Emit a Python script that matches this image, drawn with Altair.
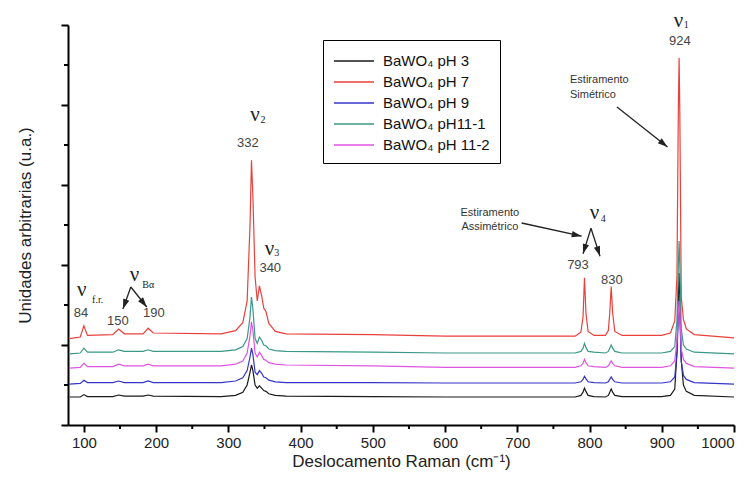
import math
import altair as alt
import pandas as pd

# ---------------- data ----------------
SERIES = ["BaWO₄ pH 3", "BaWO₄ pH 7", "BaWO₄ pH 9", "BaWO₄ pH11-1", "BaWO₄ pH 11-2"]
COLORS = ["#1a1a1a", "#e8413c", "#3535c8", "#3a9888", "#e055e0"]

RAMAN_X = [80, 95, 100, 105, 140, 148, 156, 182, 189, 196,
           290, 310, 320, 326, 330, 332, 334, 337, 340, 343,
           346, 349, 352, 356, 365, 380, 500, 600, 700, 780,
           788, 791, 793, 795, 798, 806, 822, 826, 828, 830,
           832, 835, 845, 900, 912, 918, 921, 923, 924, 925,
           927, 930, 934, 945, 1000]

PH3 = [0.35, 0.35, 0.38, 0.355, 0.355, 0.375, 0.36, 0.36, 0.375, 0.36,
       0.355, 0.37, 0.41, 0.50, 0.66, 0.75, 0.68, 0.50, 0.46, 0.49,
       0.46, 0.43, 0.42, 0.39, 0.37, 0.36, 0.355, 0.35, 0.35, 0.35,
       0.37, 0.41, 0.46, 0.42, 0.37, 0.355, 0.35, 0.37, 0.41, 0.45,
       0.41, 0.37, 0.355, 0.355, 0.37, 0.45, 0.9, 1.6, 1.9, 1.6,
       0.8, 0.5, 0.42, 0.37, 0.35]

PH7 = [1.08, 1.10, 1.24, 1.12, 1.13, 1.20, 1.14, 1.14, 1.21, 1.15,
       1.14, 1.18, 1.28, 1.55, 2.5, 3.31, 2.85, 1.85, 1.55, 1.74,
       1.62, 1.46, 1.42, 1.27, 1.17, 1.14, 1.13, 1.11, 1.11, 1.11,
       1.16, 1.35, 1.84, 1.40, 1.17, 1.12, 1.12, 1.18, 1.40, 1.73,
       1.40, 1.17, 1.12, 1.12, 1.15, 1.30, 1.85, 4.0, 4.59, 3.9,
       1.6, 1.32, 1.2, 1.13, 1.09]

PH9 = [0.51, 0.52, 0.56, 0.53, 0.53, 0.55, 0.53, 0.53, 0.55, 0.53,
       0.53, 0.55, 0.59, 0.68, 0.85, 0.96, 0.88, 0.66, 0.63, 0.68,
       0.65, 0.60, 0.59, 0.56, 0.54, 0.53, 0.53, 0.525, 0.525, 0.525,
       0.54, 0.57, 0.61, 0.58, 0.54, 0.53, 0.525, 0.54, 0.57, 0.60,
       0.57, 0.54, 0.525, 0.525, 0.54, 0.6, 0.9, 1.35, 1.55, 1.35,
       0.8, 0.62, 0.57, 0.53, 0.51]

PH11_1 = [0.89, 0.90, 0.96, 0.91, 0.91, 0.94, 0.92, 0.92, 0.94, 0.92,
          0.92, 0.94, 0.98, 1.08, 1.35, 1.60, 1.45, 1.08, 1.02, 1.10,
          1.06, 1.00, 0.99, 0.95, 0.93, 0.92, 0.91, 0.90, 0.90, 0.90,
          0.92, 0.96, 1.02, 0.97, 0.92, 0.91, 0.90, 0.92, 0.96, 1.00,
          0.96, 0.92, 0.90, 0.90, 0.92, 0.98, 1.3, 2.0, 2.3, 2.0,
          1.2, 1.0, 0.95, 0.91, 0.89]

PH11_2 = [0.71, 0.72, 0.77, 0.73, 0.73, 0.76, 0.74, 0.74, 0.76, 0.74,
          0.74, 0.76, 0.80, 0.90, 1.12, 1.29, 1.18, 0.90, 0.85, 0.91,
          0.87, 0.82, 0.81, 0.78, 0.76, 0.75, 0.74, 0.72, 0.72, 0.72,
          0.74, 0.77, 0.82, 0.78, 0.74, 0.73, 0.72, 0.74, 0.77, 0.80,
          0.77, 0.74, 0.72, 0.72, 0.74, 0.80, 1.05, 1.4, 1.55, 1.4,
          0.95, 0.82, 0.77, 0.73, 0.71]

X_MAJOR = [100, 200, 300, 400, 500, 600, 700, 800, 900, 1000]
X_MINOR = [150, 250, 350, 450, 550, 650, 750, 850, 950]
Y_MAJOR = [0, 1, 2, 3, 4, 5]
Y_MINOR = [0.5, 1.5, 2.5, 3.5, 4.5]

# annotation texts (data coordinates)
NU = [(97, 1.69), (170, 1.875), (337, 3.875), (357, 2.20), (807, 2.65), (923, 5.05)]
NU_SUB = [("f.r.", 119, 1.56), ("Bα", 189, 1.75), ("2", 348, 3.81),
          ("3", 367, 2.145), ("4", 819, 2.575), ("1", 934, 5.0)]
PEAK_LABELS = [("84", 96, 1.40), ("150", 147, 1.30), ("190", 197, 1.40),
               ("332", 327, 3.525), ("340", 358, 1.96), ("793", 784, 2.0),
               ("830", 831, 1.81), ("924", 925, 4.80)]
NOTES = [("Estiramento", 662, 2.65, "center"), ("Assimétrico", 662, 2.475, "center"),
         ("Estiramento", 773, 4.31, "left"), ("Simétrico", 773, 4.125, "left")]
ARROWS = [(165, 1.725, 154, 1.45), (165, 1.725, 187, 1.475),
          (802, 2.46, 791, 2.14), (802, 2.46, 814.5, 2.11),
          (706, 2.525, 789, 2.36), (838, 3.975, 908, 3.475)]

# ---------------- geometry ----------------
W, H = 666, 400
XDOM = [78, 1000]
YDOM = [0, 5]
SX = W / (XDOM[1] - XDOM[0])
SY = H / (YDOM[1] - YDOM[0])

rows = []
for name, ys in zip(SERIES, [PH3, PH7, PH9, PH11_1, PH11_2]):
    for xv, yv in zip(RAMAN_X, ys):
        rows.append({"x": xv, "y": yv, "s": name})
spec = pd.DataFrame(rows)

xs = alt.Scale(domain=XDOM, nice=False, zero=False)
ys_ = alt.Scale(domain=YDOM, nice=False, zero=False)

lines = alt.Chart(spec).mark_line(strokeWidth=1.2, interpolate="linear").encode(
    x=alt.X("x:Q", scale=xs,
            axis=alt.Axis(values=X_MAJOR, format="d", title="Deslocamento Raman (cm⁻¹)",
                          tickSize=7, tickWidth=2, domainWidth=2, domainColor="black",
                          tickColor="black", labelFontSize=15, labelColor="#222",
                          labelFont="Liberation Sans", labelPadding=3,
                          titleFont="Liberation Sans", titleFontSize=17,
                          titleFontWeight="normal", titleColor="#222", titlePadding=3,
                          grid=False)),
    y=alt.Y("y:Q", scale=ys_,
            axis=alt.Axis(values=Y_MAJOR, labels=False, title="Unidades arbitrarias (u.a.)",
                          tickSize=7, tickWidth=2, domainWidth=2, domainColor="black",
                          tickColor="black", titleFont="Liberation Sans", titleFontSize=17,
                          titleFontWeight="normal", titleColor="#222", titlePadding=26,
                          grid=False)),
    color=alt.Color("s:N", scale=alt.Scale(domain=SERIES, range=COLORS),
                    legend=alt.Legend(title=None, orient="none", legendX=255, legendY=15,
                                      symbolType="M-2,0H2", symbolSize=400, symbolStrokeWidth=1.5,
                                      symbolOffset=10,
                                      labelFont="Liberation Sans", labelFontSize=15,
                                      labelColor="#111", rowPadding=2, padding=10,
                                      labelOffset=18, strokeColor="black",
                                      fillColor="white", labelLimit=200)),
    detail="s:N",
)

xminor = alt.Chart(pd.DataFrame({"v": X_MINOR})).mark_rule(color="black", strokeWidth=2).encode(
    x=alt.X("v:Q", scale=xs), y=alt.value(H), y2=alt.value(H + 4))
yminor = alt.Chart(pd.DataFrame({"v": Y_MINOR})).mark_rule(color="black", strokeWidth=2).encode(
    y=alt.Y("v:Q", scale=ys_), x=alt.value(-4), x2=alt.value(0))

nu = alt.Chart(pd.DataFrame([{"x": a, "y": b} for a, b in NU])).mark_text(
    text="ν", font="Liberation Serif", fontSize=21, color="#222").encode(
    x=alt.X("x:Q", scale=xs), y=alt.Y("y:Q", scale=ys_))
nusub = alt.Chart(pd.DataFrame([{"t": t, "x": a, "y": b} for t, a, b in NU_SUB])).mark_text(
    font="Liberation Serif", fontSize=10, color="#222").encode(
    x=alt.X("x:Q", scale=xs), y=alt.Y("y:Q", scale=ys_), text="t:N")
peaks = alt.Chart(pd.DataFrame([{"t": t, "x": a, "y": b} for t, a, b in PEAK_LABELS])).mark_text(
    font="Liberation Sans", fontSize=13, color="#444").encode(
    x=alt.X("x:Q", scale=xs), y=alt.Y("y:Q", scale=ys_), text="t:N")
notes_c = alt.Chart(pd.DataFrame([{"t": t, "x": a, "y": b} for t, a, b, al in NOTES if al == "center"])).mark_text(
    font="Liberation Sans", fontSize=11, color="#333", align="center").encode(
    x=alt.X("x:Q", scale=xs), y=alt.Y("y:Q", scale=ys_), text="t:N")
notes_l = alt.Chart(pd.DataFrame([{"t": t, "x": a, "y": b} for t, a, b, al in NOTES if al == "left"])).mark_text(
    font="Liberation Sans", fontSize=11, color="#333", align="left").encode(
    x=alt.X("x:Q", scale=xs), y=alt.Y("y:Q", scale=ys_), text="t:N")

arr_rows = []
for x1, y1, x2, y2 in ARROWS:
    dx = (x2 - x1) * SX
    dy = -(y2 - y1) * SY
    ang = math.degrees(math.atan2(dx, -dy)) % 360
    arr_rows.append({"x1": x1, "y1": y1, "x2": x2, "y2": y2, "ang": ang})
arr = pd.DataFrame(arr_rows)
shafts = alt.Chart(arr).mark_rule(color="#222", strokeWidth=1.3).encode(
    x=alt.X("x1:Q", scale=xs), y=alt.Y("y1:Q", scale=ys_), x2="x2:Q", y2="y2:Q")
heads = alt.Chart(arr).mark_point(shape="M0,0 L-0.45,1.4 L0.45,1.4 Z", filled=True,
                                  color="#222", opacity=1, size=200).encode(
    x=alt.X("x2:Q", scale=xs), y=alt.Y("y2:Q", scale=ys_),
    angle=alt.Angle("ang:Q", scale=None))

chart = alt.layer(lines, xminor, yminor, shafts, heads, nu, nusub, peaks, notes_c, notes_l).properties(
    width=W, height=H,
    autosize=alt.AutoSizeParams(type="none"),
    padding={"left": 60, "top": 17, "right": 10, "bottom": 55},
    background="white",
).configure_view(stroke=None)

chart.save("out.html", embed_options={"renderer": "svg", "actions": False})
